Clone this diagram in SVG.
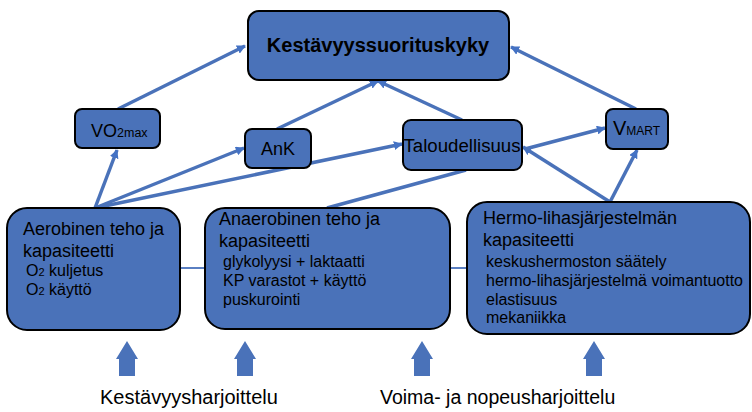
<svg xmlns="http://www.w3.org/2000/svg" width="752" height="412" viewBox="0 0 752 412">
<defs>
<marker id="ah" viewBox="0 0 10 10" refX="9" refY="5" markerWidth="9" markerHeight="9" markerUnits="userSpaceOnUse" orient="auto">
<path d="M0,0 L10,5 L0,10 z" fill="#4472C4"/>
</marker>
<style>
.box{fill:#4A72B9;stroke:#000;stroke-width:2}
.t{font-family:"Liberation Sans",Arial,sans-serif;fill:#000}
.con{stroke:#4A72B9;stroke-width:3.5;fill:none}
.arr{marker-end:url(#ah)}
.thin{stroke:#5A7FC2;stroke-width:2;fill:none}
.big{fill:#4A72B9}
</style>
</defs>
<rect width="752" height="412" fill="#fff"/>
<g id="connectors">
<line class="con arr" x1="118" y1="109" x2="245" y2="46"/>
<line class="con arr" x1="95" y1="208" x2="117" y2="150"/>
<line class="con arr" x1="95" y1="208" x2="244" y2="148"/>
<line class="con arr" x1="95" y1="208" x2="402" y2="144"/>
<line class="con arr" x1="277" y1="129" x2="378" y2="81"/>
<line class="con arr" x1="462" y1="120" x2="378" y2="81"/>
<line class="con arr" x1="636" y1="109" x2="511" y2="47"/>
<line class="con" x1="327" y1="208" x2="466" y2="170"/>
<line class="con arr" x1="610" y1="202" x2="523" y2="147"/>
<line class="con arr" x1="610" y1="202" x2="637" y2="150"/>
<line class="con arr" x1="525" y1="149" x2="605" y2="128"/>
<line class="thin" x1="180" y1="268" x2="205" y2="268"/>
<line class="thin" x1="450" y1="268" x2="467" y2="268"/>
</g>
<g id="top">
<rect class="box" x="248" y="11" width="261" height="69" rx="11"/>
<text class="t" x="378" y="52" font-size="20" font-weight="bold" text-anchor="middle">Kestävyyssuorituskyky</text>
</g>
<g id="vo2max">
<rect class="box" x="75" y="109" width="85" height="39" rx="7"/>
<text class="t" x="91" y="137" font-size="18">VO<tspan font-size="12.5">2max</tspan></text>
</g>
<g id="ank">
<rect class="box" x="245" y="129" width="66" height="39" rx="7"/>
<text class="t" x="278" y="155" font-size="18" text-anchor="middle">AnK</text>
</g>
<g id="taloudellisuus">
<rect class="box" x="403" y="120" width="119" height="50" rx="8"/>
<text class="t" x="462" y="152" font-size="18" text-anchor="middle" textLength="117" lengthAdjust="spacingAndGlyphs">Taloudellisuus</text>
</g>
<g id="vmart">
<rect class="box" x="606" y="109" width="62" height="40" rx="7"/>
<text class="t" x="613" y="135" font-size="20">V<tspan font-size="12">MART</tspan></text>
</g>
<g id="aerobinen">
<rect class="box" x="7" y="208" width="173" height="122" rx="20"/>
<text class="t" font-size="18"><tspan x="23" y="235">Aerobinen teho ja</tspan><tspan x="23" y="257">kapasiteetti</tspan></text>
<text class="t" font-size="16"><tspan x="26" y="276">O<tspan font-size="11">2</tspan> kuljetus</tspan><tspan x="26" y="295">O<tspan font-size="11">2</tspan> käyttö</tspan></text>
</g>
<g id="anaerobinen">
<rect class="box" x="205" y="208" width="245" height="121" rx="20"/>
<text class="t" font-size="18"><tspan x="219" y="225">Anaerobinen teho ja</tspan><tspan x="219" y="247">kapasiteetti</tspan></text>
<text class="t" font-size="16"><tspan x="223" y="267">glykolyysi + laktaatti</tspan><tspan x="223" y="286">KP varastot + käyttö</tspan><tspan x="223" y="305">puskurointi</tspan></text>
</g>
<g id="hermo">
<rect class="box" x="467" y="202" width="283" height="132" rx="20"/>
<text class="t" font-size="18"><tspan x="483" y="224">Hermo-lihasjärjestelmän</tspan><tspan x="483" y="246">kapasiteetti</tspan></text>
<text class="t" font-size="16"><tspan x="486" y="267">keskushermoston säätely</tspan><tspan x="486" y="286">hermo-lihasjärjestelmä voimantuotto</tspan><tspan x="486" y="305">elastisuus</tspan><tspan x="486" y="323">mekaniikka</tspan></text>
</g>
<g id="training-arrows">
<path class="big" d="M127,341 L138,359 L135,359 L135,376 L119,376 L119,359 L116,359 z"/>
<path class="big" d="M245,341 L256,359 L253,359 L253,376 L237,376 L237,359 L234,359 z"/>
<path class="big" d="M422,341 L433,359 L430,359 L430,376 L414,376 L414,359 L411,359 z"/>
<path class="big" d="M594,341 L605,359 L602,359 L602,376 L586,376 L586,359 L583,359 z"/>
</g>
<g id="labels">
<text class="t" x="100" y="404" font-size="20">Kestävyysharjoittelu</text>
<text class="t" x="380" y="404" font-size="19.5">Voima- ja nopeusharjoittelu</text>
</g>
</svg>
